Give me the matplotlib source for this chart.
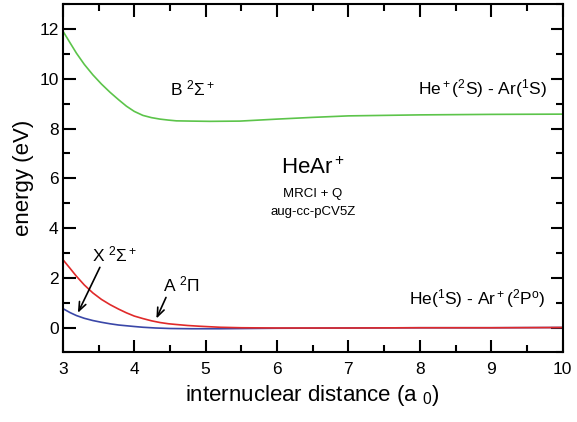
import numpy as np
import matplotlib.pyplot as plt
from matplotlib.ticker import MultipleLocator

plt.rcParams['font.family'] = ['Liberation Sans', 'DejaVu Sans']
plt.rcParams['mathtext.fontset'] = 'custom'
plt.rcParams['mathtext.rm'] = 'Liberation Sans'
plt.rcParams['mathtext.it'] = 'Liberation Sans'

# potential energy curves, HeAr+ (R in bohr, E in eV)
r_B = [3.0, 3.1, 3.19, 3.3, 3.42, 3.54, 3.66, 3.78, 3.89, 4.0, 4.12, 4.24, 4.36, 4.48, 4.59,
       4.8, 5.06, 5.48, 6.0, 6.5, 7.0, 7.5, 8.0, 9.0, 10.0]
e_B = [11.92, 11.45, 11.03, 10.58, 10.16, 9.79, 9.46, 9.16, 8.9, 8.69, 8.53, 8.44, 8.38, 8.34, 8.31,
       8.3, 8.29, 8.3, 8.38, 8.45, 8.51, 8.53, 8.55, 8.57, 8.58]

r_A = [3.0, 3.1, 3.19, 3.3, 3.42, 3.54, 3.66, 3.78, 3.89, 4.0, 4.12, 4.24, 4.36, 4.48, 4.59,
       4.75, 4.92, 5.2, 5.5, 6.0, 7.0, 8.0, 9.0, 10.0]
e_A = [2.73, 2.38, 2.06, 1.71, 1.39, 1.13, 0.92, 0.74, 0.59, 0.46, 0.36, 0.27, 0.2, 0.15, 0.12,
       0.08, 0.05, 0.01, -0.01, -0.02, -0.02, -0.01, -0.01, 0.0]

r_X = [3.0, 3.1, 3.19, 3.3, 3.42, 3.54, 3.66, 3.78, 3.89, 4.0, 4.12, 4.3, 4.5, 4.8, 5.2,
       5.6, 6.0, 7.0, 8.0, 9.0, 10.0]
e_X = [0.76, 0.6, 0.48, 0.37, 0.28, 0.21, 0.15, 0.1, 0.07, 0.04, 0.01, -0.02, -0.04, -0.05, -0.05,
       -0.04, -0.03, -0.02, -0.01, -0.01, 0.0]

fig, ax = plt.subplots(figsize=(5.77, 4.22), dpi=100)
fig.subplots_adjust(left=0.109, right=0.975, top=0.99, bottom=0.165)

ax.plot(r_X, e_X, color='#3a47a8', lw=1.2)
ax.plot(r_A, e_A, color='#e02a2a', lw=1.2)
ax.plot(r_B, e_B, color='#5cc44a', lw=1.2)

ax.set_xlim(3, 10)
ax.set_ylim(-1, 13)
ax.xaxis.set_major_locator(MultipleLocator(1))
ax.xaxis.set_minor_locator(MultipleLocator(0.5))
ax.yaxis.set_major_locator(MultipleLocator(2))
ax.yaxis.set_minor_locator(MultipleLocator(1))
ax.tick_params(which='both', direction='in', top=True, right=True, width=1.5, labelsize=12.5)
ax.tick_params(axis='x', pad=7)
ax.tick_params(axis='y', pad=3)
ax.tick_params(which='major', length=9)
ax.tick_params(which='minor', length=5)
for s in ax.spines.values():
    s.set_linewidth(1.5)

ax.set_xlabel(r'internuclear distance (a $_0$)', fontsize=16, labelpad=4)
ax.set_ylabel('energy (eV)', fontsize=16, labelpad=4)

ax.text(4.5, 9.6, r'B $^2\Sigma^+$', fontsize=12.5, va='center')
ax.text(9.78, 9.6, r'He$^+$($^2$S) - Ar($^1$S)', fontsize=12.5, va='center', ha='right')
ax.text(9.75, 1.15, r'He($^1$S) - Ar$^+$($^2$P$^o$)', fontsize=12.5, va='center', ha='right')
ax.text(6.5, 6.4, r'HeAr$^+$', fontsize=16, ha='center', va='center')
ax.text(6.5, 5.38, 'MRCI + Q', fontsize=9.5, ha='center', va='center')
ax.text(6.5, 4.66, 'aug-cc-pCV5Z', fontsize=9.5, ha='center', va='center')

ax.annotate(r'X $^2\Sigma^+$', xy=(3.21, 0.59), xytext=(3.41, 2.93), fontsize=12.5, va='center',
            arrowprops=dict(arrowstyle='->,head_length=0.5,head_width=0.2', lw=1.2, color='black',
                            shrinkA=0, shrinkB=0, relpos=(0.2, 0.0)))
ax.annotate(r'A $^2\Pi$', xy=(4.31, 0.36), xytext=(4.4, 1.72), fontsize=12.5, va='center',
            arrowprops=dict(arrowstyle='->,head_length=0.5,head_width=0.2', lw=1.2, color='black',
                            shrinkA=0, shrinkB=0, relpos=(0.12, 0.0)))

plt.savefig('out.png')
